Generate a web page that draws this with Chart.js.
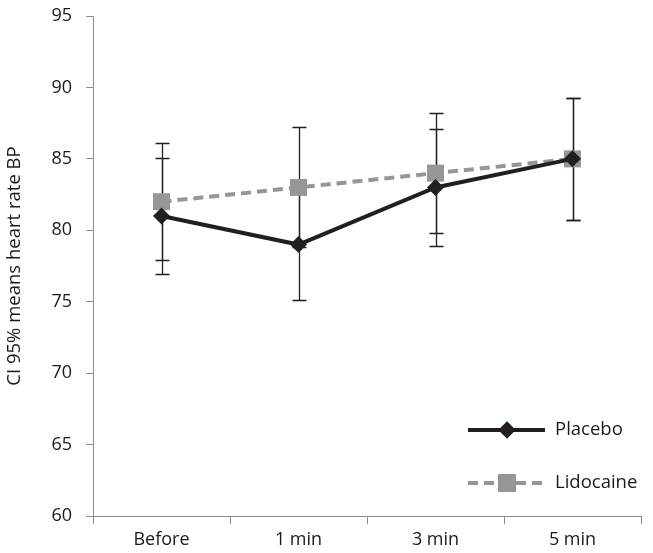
<!DOCTYPE html>
<html>
<head>
<meta charset="utf-8">
<script src="https://cdn.jsdelivr.net/npm/chart.js@4.4.1/dist/chart.umd.min.js"></script>
<style>
  html, body { margin: 0; padding: 0; background: #fff; }
  #wrap { width: 653px; height: 553px; }
</style>
</head>
<body>
<div id="wrap"><canvas id="graphique" width="653" height="553"></canvas></div>
<script>
// données
const categories = ["Before", "1 min", "3 min", "5 min"];
const placebo = [81, 79, 83, 85];
const lidocaine = [82, 83, 84, 85];
// demi-largeur de l'IC 95%
const placeboErr = [4.05, 3.9, 4.1, 4.25];
const lidocaineErr = [4.1, 4.2, 4.2, 4.25];
const yTicks = [60, 65, 70, 75, 80, 85, 90, 95];

const FONT = '"Open Sans", "Noto Sans", sans-serif';
const NOIR = "#231f20";
const GRIS = "#969696";
const AXE = "#8c8c8c";

// barres d'erreur dessinées sous les courbes
const barresErreur = {
    id: "barresErreur",
    beforeDatasetsDraw(chart) {
        const ctx = chart.ctx;
        const y = chart.scales.y;
        ctx.save();
        ctx.strokeStyle = NOIR;
        ctx.lineWidth = 1.3;
        chart.data.datasets.forEach((ds, i) => {
            const meta = chart.getDatasetMeta(i);
            meta.data.forEach((pt, j) => {
                const v = ds.data[j];
                const e = ds.erreurs[j];
                const yh = Math.round(y.getPixelForValue(v + e)) + 0.5;
                const yb = Math.round(y.getPixelForValue(v - e)) + 0.5;
                const x = Math.round(pt.x) + 0.5;
                ctx.beginPath();
                ctx.moveTo(x, yh); ctx.lineTo(x, yb);
                ctx.moveTo(x - 7, yh); ctx.lineTo(x + 7, yh);
                ctx.moveTo(x - 7, yb); ctx.lineTo(x + 7, yb);
                ctx.stroke();
            });
        });
        ctx.restore();
    }
};

// légende à l'intérieur du graphique, en bas à droite
const legendeInterne = {
    id: "legendeInterne",
    afterDraw(chart) {
        const ctx = chart.ctx;
        const lignes = [
            { ds: chart.data.datasets[0], y: 430 },
            { ds: chart.data.datasets[1], y: 483 }
        ];
        ctx.save();
        lignes.forEach(l => {
            ctx.strokeStyle = l.ds.borderColor;
            ctx.lineWidth = l.ds.borderWidth;
            ctx.setLineDash(l.ds.borderDash || []);
            ctx.beginPath();
            ctx.moveTo(468, l.y);
            ctx.lineTo(545, l.y);
            ctx.stroke();
            ctx.setLineDash([]);
            Chart.helpers.drawPoint(ctx, {
                pointStyle: l.ds.pointStyle,
                radius: l.ds.pointRadius,
                borderWidth: 0
            }, 507, l.y);
            ctx.fillStyle = l.ds.pointBackgroundColor;
            ctx.fill();
            ctx.fillStyle = "#1a1a1a";
            ctx.font = "18.5px " + FONT;
            ctx.textBaseline = "middle";
            ctx.textAlign = "left";
            ctx.fillText(l.ds.label, 555, l.y);
        });
        ctx.restore();
    }
};

const ctx = document.getElementById("graphique").getContext("2d");
new Chart(ctx, {
    type: "line",
    data: {
        labels: categories,
        datasets: [{
            label: "Placebo",
            data: placebo,
            erreurs: placeboErr,
            borderColor: NOIR,
            borderWidth: 4,
            pointStyle: "rectRot",
            pointRadius: 8.5,
            pointBorderWidth: 0,
            pointBackgroundColor: NOIR,
            pointBorderColor: NOIR,
            tension: 0
        }, {
            label: "Lidocaine",
            data: lidocaine,
            erreurs: lidocaineErr,
            borderColor: GRIS,
            borderWidth: 4,
            borderDash: [10, 6],
            pointStyle: "rect",
            pointRadius: 12,
            pointBorderWidth: 0,
            pointBackgroundColor: GRIS,
            pointBorderColor: GRIS,
            tension: 0
        }]
    },
    options: {
        responsive: false,
        animation: false,
        layout: { padding: { top: 16, right: 12, left: 0, bottom: 0 } },
        plugins: {
            legend: { display: false },
            tooltip: { enabled: false }
        },
        scales: {
            x: {
                offset: true,
                grid: { offset: true, drawOnChartArea: false, drawTicks: true, tickLength: 8, color: AXE },
                border: { color: AXE, width: 1 },
                ticks: { color: "#1a1a1a", font: { family: FONT, size: 18 }, padding: 5, maxRotation: 0 },
                afterFit(scale) {
                    scale.height = 37;
                    scale.paddingLeft = 0;
                    scale.paddingRight = 0;
                }
            },
            y: {
                min: 60,
                max: 95,
                afterBuildTicks(scale) { scale.ticks = yTicks.map(v => ({ value: v })); },
                grid: { drawOnChartArea: false, drawTicks: true, tickLength: 7, color: AXE },
                border: { color: AXE, width: 1 },
                ticks: { color: "#1a1a1a", font: { family: FONT, size: 18 }, padding: 14 },
                title: {
                    display: true,
                    text: "CI 95% means heart rate BP",
                    color: "#1a1a1a",
                    font: { family: FONT, size: 18.5 },
                    padding: { top: 4, bottom: 0 }
                },
                afterFit(scale) {
                    scale.width = 93;
                    scale.paddingTop = 0;
                    scale.paddingBottom = 0;
                }
            }
        }
    },
    plugins: [barresErreur, legendeInterne]
});
</script>
</body>
</html>
